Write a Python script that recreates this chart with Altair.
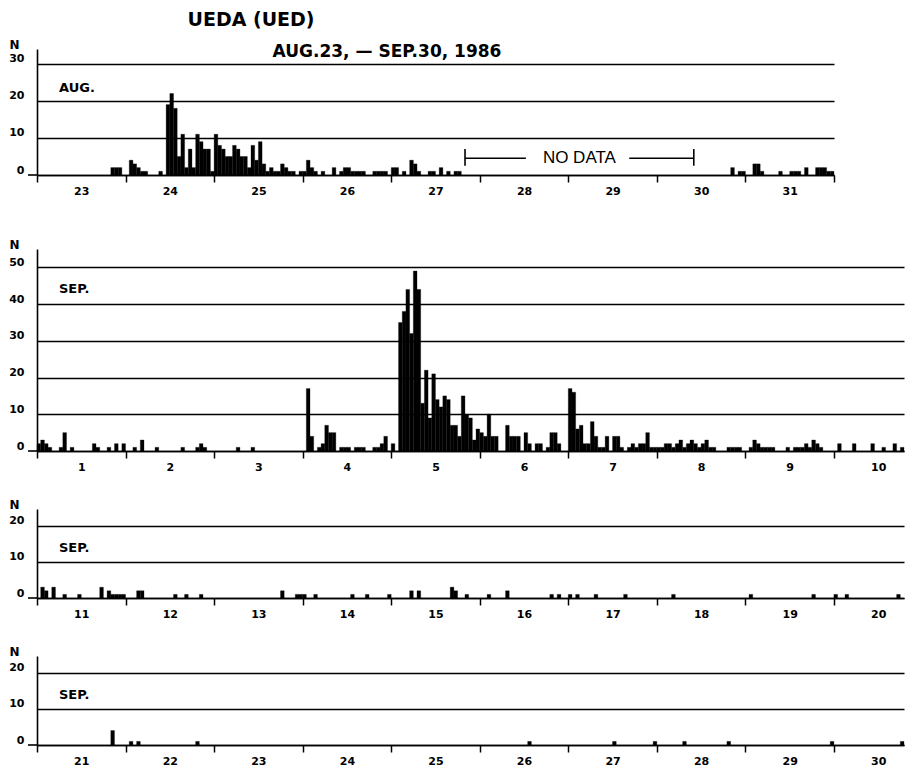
import altair as alt
import pandas as pd

FONT = "DejaVu Sans"
PX_PER_HOUR = 3.69

TITLE = "UEDA (UED)"
SUBTITLE = "AUG.23, — SEP.30, 1986"

# (hour offset from 00h of first day of panel, events per hour) - non-zero bins only
aug_bins = [(20, 2), (21, 2), (22, 2), (25, 4), (26, 3), (27, 2), (28, 1), (29, 1), (33, 1),
            (35, 19), (36, 22), (37, 18), (38, 5), (39, 11), (40, 2), (41, 7), (42, 2), (43, 11),
            (44, 9), (45, 7), (46, 7), (47, 1), (48, 11), (49, 8), (50, 7), (51, 5), (52, 5),
            (53, 8), (54, 7), (55, 5), (56, 5), (57, 2), (58, 8), (59, 4), (60, 9), (61, 3),
            (62, 1), (63, 2), (64, 1), (65, 1), (66, 3), (67, 2), (68, 1), (69, 1), (71, 1),
            (72, 1), (73, 4), (74, 2), (75, 1), (77, 1), (80, 2), (82, 1), (83, 2), (84, 2),
            (85, 1), (86, 1), (87, 1), (88, 1), (91, 1), (92, 1), (93, 1), (94, 1), (96, 2),
            (97, 2), (99, 1), (101, 4), (102, 3), (103, 1), (106, 1), (107, 1), (109, 2),
            (111, 1), (113, 1), (114, 1),
            (188, 2), (190, 1), (191, 1), (194, 3), (195, 3), (196, 1), (201, 1), (204, 1),
            (205, 1), (206, 1), (208, 2), (211, 2), (212, 2), (213, 2), (214, 1), (215, 1)]

sep1_bins = [(0, 2), (1, 3), (2, 2), (3, 1), (6, 1), (7, 5), (9, 1), (15, 2), (16, 1), (19, 1),
             (21, 2), (23, 2), (26, 1), (28, 3), (32, 1), (39, 1), (43, 1), (44, 2), (45, 1),
             (54, 1), (58, 1),
             (73, 17), (74, 4), (76, 1), (77, 2), (78, 7), (79, 5), (80, 5), (82, 1), (83, 1),
             (84, 1), (86, 1), (87, 1), (88, 1), (91, 1), (92, 1), (93, 2), (94, 4), (96, 2),
             (98, 35), (99, 38), (100, 44), (101, 32), (102, 49), (103, 44), (104, 13),
             (105, 22), (106, 9), (107, 21), (108, 14), (109, 12), (110, 15), (111, 14),
             (112, 7), (113, 7), (114, 4), (115, 15), (116, 10), (117, 9), (118, 3), (119, 6),
             (120, 5), (121, 4), (122, 10), (123, 4), (124, 4), (127, 7), (128, 4), (129, 4),
             (130, 4), (132, 5), (133, 2), (135, 2), (136, 2), (138, 1), (139, 5), (140, 5),
             (141, 2),
             (144, 17), (145, 16), (146, 6), (147, 7), (148, 2), (149, 2), (150, 8), (151, 4),
             (152, 1), (153, 1), (154, 4), (156, 4), (157, 4), (158, 1), (160, 1), (161, 2),
             (162, 1), (163, 2), (164, 2), (165, 5), (166, 1), (167, 1), (168, 1), (169, 1),
             (170, 2), (171, 2), (172, 1), (173, 2), (174, 3), (175, 1), (176, 2), (177, 3),
             (178, 2), (179, 1), (180, 2), (181, 3), (182, 1), (183, 1), (187, 1), (188, 1),
             (189, 1), (190, 1), (193, 1), (194, 3), (195, 2), (196, 1), (197, 1), (198, 1),
             (199, 1), (203, 1), (205, 1), (206, 1), (207, 1), (208, 2), (209, 1), (210, 3),
             (211, 2), (212, 1), (217, 2), (221, 2), (226, 2), (229, 1), (232, 2), (234, 1)]

sep2_bins = [(1, 3), (2, 2), (4, 3), (7, 1), (11, 1), (17, 3), (19, 2), (20, 1), (21, 1),
             (22, 1), (23, 1), (27, 2), (28, 2), (37, 1), (40, 1), (44, 1), (66, 2), (70, 1),
             (71, 1), (72, 1), (75, 1), (85, 1), (89, 1), (95, 1), (101, 2), (103, 2),
             (112, 3), (113, 2), (116, 1), (122, 1), (127, 2), (139, 1), (141, 1), (144, 1),
             (146, 1), (151, 1), (159, 1), (172, 1), (193, 1), (210, 1), (216, 1), (219, 1),
             (233, 1)]

sep3_bins = [(20, 4), (25, 1), (27, 1), (43, 1), (133, 1), (156, 1), (167, 1), (175, 1),
             (187, 1), (215, 1), (234, 1)]

aug_days = [23, 24, 25, 26, 27, 28, 29, 30, 31]
sep1_days = [1, 2, 3, 4, 5, 6, 7, 8, 9, 10]
sep2_days = [11, 12, 13, 14, 15, 16, 17, 18, 19, 20]
sep3_days = [21, 22, 23, 24, 25, 26, 27, 28, 29, 30]

NO_DATA_HOURS = (116, 178)


def make_panel(bins, days, x_max, y_max, y_ticks, plot_h, month, month_y, aug=False):
    df = pd.DataFrame(bins, columns=["hour", "n"])
    df["end"] = df["hour"] + 1
    df["base"] = 0
    width = round(x_max * PX_PER_HOUR)
    xs = alt.Scale(domain=[0, x_max], nice=False, zero=False)
    ys = alt.Scale(domain=[0, y_max], nice=False, zero=True)
    nd = len(days)
    tick_vals = [24 * i for i in range(nd + 1) if 24 * i <= x_max]
    arr = "[" + ",".join("'%s'" % d for d in days) + "]"
    lab = "datum.value < %d ? %s[round(datum.value/24)] : ''" % (24 * nd, arr)
    xaxis = alt.Axis(values=tick_vals, labelExpr=lab, title=None, grid=False, ticks=True,
                     tickSize=7, tickWidth=1.5, tickColor="black", domainColor="black",
                     domainWidth=1.6, labelOffset=12 * PX_PER_HOUR, labelPadding=3,
                     labelFlush=False, labelOverlap=False, labelAngle=0,
                     labelBaseline="top", labelAlign="center")
    yaxis = alt.Axis(values=y_ticks, title="N", titleAngle=0, titleX=-23, titleY=-5,
                     titleAlign="center", titleBaseline="middle", titleFontSize=12,
                     titleFontWeight="bold", titleColor="black", titleFont=FONT,
                     ticks=False, tickSize=0, labelPadding=13, labelBaseline="alphabetic",
                     labelOffset=-2, grid=True, gridColor="black", gridWidth=1.3,
                     gridOpacity=1, domainColor="black", domainWidth=1.6,
                     labelFlush=False, labelOverlap=False)

    bars = alt.Chart(df).mark_rect(color="black", stroke="black", strokeWidth=0.3).encode(
        x=alt.X("hour:Q", scale=xs, axis=xaxis),
        x2="end:Q",
        y=alt.Y("n:Q", scale=ys, axis=yaxis),
        y2="base:Q",
    )
    zero_ext = alt.Chart(pd.DataFrame({"n": [0]})).mark_rule(
        color="black", strokeWidth=1.6).encode(
        y=alt.Y("n:Q", scale=ys, axis=yaxis), x=alt.value(-9), x2=alt.value(0))
    month_txt = alt.Chart(pd.DataFrame({"n": [month_y], "t": [month]})).mark_text(
        font=FONT, fontSize=13, fontWeight="bold", color="black", align="left",
        baseline="middle").encode(
        x=alt.value(22), y=alt.Y("n:Q", scale=ys, axis=yaxis), text="t:N")
    layers = [bars, zero_ext, month_txt]

    if aug:
        t1 = alt.Chart(pd.DataFrame({"t": [TITLE]})).mark_text(
            font=FONT, fontSize=19, fontWeight="bold", color="black", align="center",
            baseline="middle").encode(x=alt.value(214), y=alt.value(-29), text="t:N")
        t2 = alt.Chart(pd.DataFrame({"t": [SUBTITLE]})).mark_text(
            font=FONT, fontSize=17, fontWeight="bold", color="black", align="center",
            baseline="middle").encode(x=alt.value(350), y=alt.value(3), text="t:N")
        s, e = NO_DATA_HOURS
        mid = (s + e) / 2
        seg = pd.DataFrame({"hour": [s, mid + 13.5], "end": [mid - 14.5, e], "n": [4.5, 4.5]})
        segs = alt.Chart(seg).mark_rule(color="black", strokeWidth=1.4).encode(
            x=alt.X("hour:Q", scale=xs, axis=xaxis), x2="end:Q",
            y=alt.Y("n:Q", scale=ys, axis=yaxis))
        cap = pd.DataFrame({"hour": [s, e], "n": [2.5, 2.5], "top": [7, 7]})
        caps = alt.Chart(cap).mark_rule(color="black", strokeWidth=1.6).encode(
            x=alt.X("hour:Q", scale=xs, axis=xaxis),
            y=alt.Y("n:Q", scale=ys, axis=yaxis), y2="top:Q")
        nd_txt = alt.Chart(pd.DataFrame({"hour": [mid], "n": [4.5], "t": ["NO DATA"]})).mark_text(
            font="Liberation Sans", fontSize=17, color="black", align="center",
            baseline="middle").encode(
            x=alt.X("hour:Q", scale=xs, axis=xaxis),
            y=alt.Y("n:Q", scale=ys, axis=yaxis), text="t:N")
        layers += [t1, t2, segs, caps, nd_txt]

    return alt.layer(*layers).properties(width=width, height=plot_h)


p1 = make_panel(aug_bins, aug_days, 216, 34, [0, 10, 20, 30], 126, "AUG.", 23.6, aug=True)
p2 = make_panel(sep1_bins, sep1_days, 235, 55, [0, 10, 20, 30, 40, 50], 202, "SEP.", 44)
p3 = make_panel(sep2_bins, sep2_days, 235, 24.6, [0, 10, 20], 89, "SEP.", 13.7)
p4 = make_panel(sep3_bins, sep3_days, 235, 24.6, [0, 10, 20], 89, "SEP.", 13.7)

chart = alt.vconcat(
    p1, alt.vconcat(p2, p3, p4, spacing=26), spacing=42
).properties(
    padding={"left": 0, "top": 3, "right": 0, "bottom": 0}
).configure_view(stroke=None).configure_axis(
    labelFont=FONT, labelFontSize=11, labelFontWeight="bold", labelColor="black"
)

chart.save("out.html", embed_options={"renderer": "svg", "actions": False})
